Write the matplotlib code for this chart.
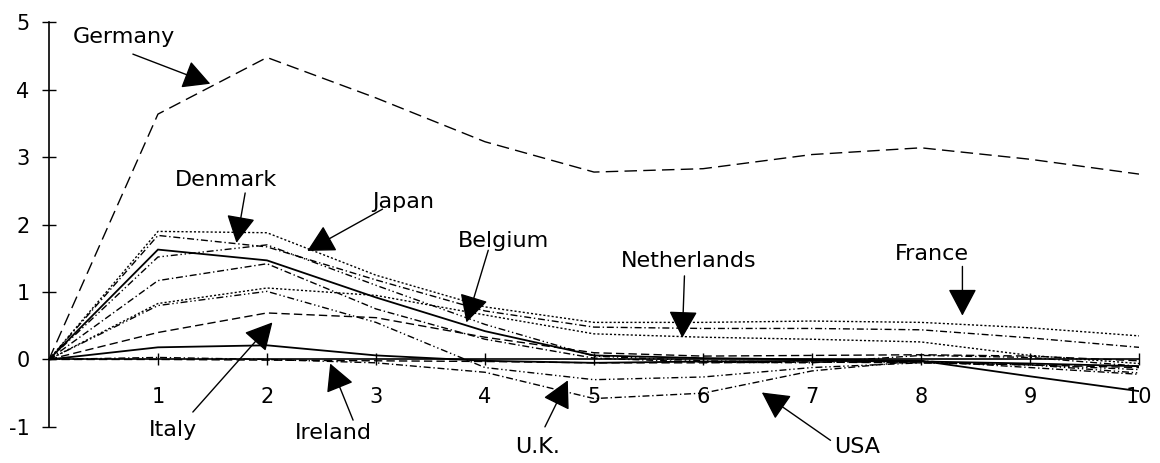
import matplotlib
matplotlib.use("Agg")
import matplotlib.pyplot as plt

# periodos apos o choque
periods = [0, 1, 2, 3, 4, 5, 6, 7, 8, 9, 10]

# respostas por pais
germany = [0, 3.64, 4.48, 3.88, 3.23, 2.78, 2.83, 3.04, 3.14, 2.97, 2.75]
france = [0, 1.90, 1.88, 1.25, 0.78, 0.55, 0.55, 0.57, 0.55, 0.47, 0.35]
denmark = [0, 1.84, 1.67, 1.18, 0.72, 0.48, 0.46, 0.46, 0.44, 0.32, 0.18]
belgium = [0, 1.63, 1.47, 0.92, 0.42, 0.06, 0.02, 0.00, -0.02, -0.25, -0.47]
japan = [0, 1.52, 1.70, 1.10, 0.52, 0.05, -0.02, -0.04, -0.04, -0.08, -0.15]
netherlands = [0, 0.83, 1.06, 0.95, 0.66, 0.38, 0.33, 0.30, 0.26, 0.06, -0.06]
outro_a = [0, 1.17, 1.42, 0.75, 0.30, 0.02, -0.04, -0.05, 0.06, 0.03, -0.10]
uk = [0, 0.80, 1.01, 0.55, -0.12, -0.30, -0.26, -0.12, -0.05, -0.08, -0.20]
italy = [0, 0.40, 0.69, 0.62, 0.33, 0.10, 0.05, 0.06, 0.07, 0.05, -0.02]
outro_b = [0, 0.18, 0.21, 0.06, -0.02, -0.05, -0.03, -0.02, -0.03, -0.06, -0.10]
ireland = [0, 0.00, -0.01, -0.02, -0.03, -0.05, -0.05, -0.04, -0.05, -0.08, -0.12]
usa = [0, 0.03, 0.00, -0.05, -0.19, -0.58, -0.50, -0.17, -0.02, -0.12, -0.22]

xticks = [1, 2, 3, 4, 5, 6, 7, 8, 9, 10]
yticks = [-1, 0, 1, 2, 3, 4, 5]

# rotulos: (texto, posicao do texto, inicio da seta, ponta da seta)
rotulos = [
    ("Germany", (0.69, 4.79), (0.77, 4.53), (1.48, 4.09)),
    ("Denmark", (1.62, 2.66), (1.80, 2.47), (1.72, 1.73)),
    ("Japan", (3.25, 2.34), (3.06, 2.23), (2.37, 1.61)),
    ("Belgium", (4.17, 1.76), (4.03, 1.62), (3.83, 0.55)),
    ("Netherlands", (5.87, 1.46), (5.83, 1.24), (5.81, 0.32)),
    ("France", (8.10, 1.56), (8.38, 1.38), (8.38, 0.65)),
    ("Italy", (1.14, -1.05), (1.32, -0.78), (2.05, 0.55)),
    ("Ireland", (2.61, -1.09), (2.79, -0.90), (2.58, -0.06)),
    ("U.K.", (4.48, -1.30), (4.55, -1.00), (4.76, -0.31)),
    ("USA", (7.41, -1.30), (7.17, -1.20), (6.54, -0.49)),
]

pontilhado = (1.5, 1.5)
traco_ponto = (5, 2, 1, 2)
traco_ponto_ponto = (5, 2, 1, 2, 1, 2)
tracejado = (6, 3)

series = [
    (germany, (9, 4.5)),
    (france, pontilhado),
    (denmark, traco_ponto),
    (belgium, None),
    (japan, traco_ponto_ponto),
    (netherlands, pontilhado),
    (outro_a, traco_ponto),
    (uk, traco_ponto_ponto),
    (italy, tracejado),
    (outro_b, None),
    (ireland, tracejado),
    (usa, traco_ponto),
]

plt.rcParams['font.family'] = ['DejaVu Sans']
plt.rcParams['axes.unicode_minus'] = False

fig = plt.figure(figsize=(11.6, 4.63), dpi=100)
ax = fig.add_axes([0.0422, 0.0, 0.9397, 0.9734])

for valores, estilo in series:
    if estilo is None:
        ax.plot(periods, valores, color='black', lw=1.3, solid_joinstyle='miter')
    else:
        ax.plot(periods, valores, color='black', lw=1.0, dashes=estilo)

for texto, pos, inicio, ponta in rotulos:
    ax.text(pos[0], pos[1], texto, ha='center', va='center', fontsize=16)
    ax.annotate('', xy=ponta, xytext=inicio,
                arrowprops=dict(arrowstyle='-|>,head_length=0.85,head_width=0.45',
                                mutation_scale=20, color='black', lw=1.0,
                                shrinkA=0, shrinkB=0))

ax.set_xlim(0, 10)
ax.set_ylim(-1.536, 5.15)

ax.spines['top'].set_visible(False)
ax.spines['right'].set_visible(False)
ax.spines['bottom'].set_position(('data', 0))
ax.spines['left'].set_bounds(-1, 5)
ax.spines['left'].set_linewidth(1.2)
ax.spines['bottom'].set_linewidth(1.2)

ax.set_xticks(xticks)
ax.set_yticks(yticks)
ax.tick_params(axis='x', direction='inout', length=8, width=1, pad=16, labelsize=15)
ax.tick_params(axis='y', direction='inout', length=10, width=1, pad=9, labelsize=15)

fig.savefig('out.png', dpi=100)
